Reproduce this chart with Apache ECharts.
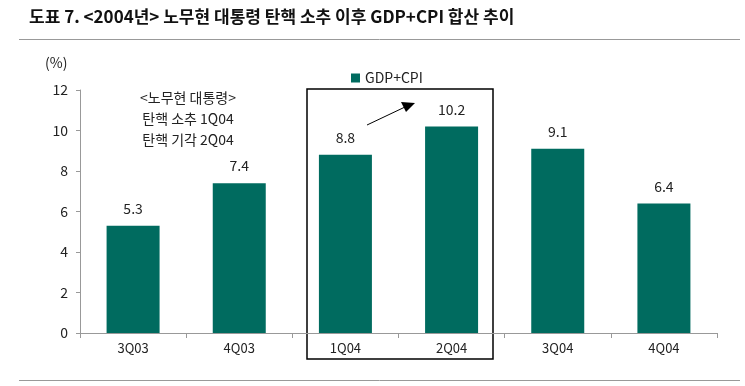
<!DOCTYPE html>
<html><head><meta charset="utf-8">
<script src="https://cdn.jsdelivr.net/npm/echarts@6/dist/echarts.min.js"></script>
<style>html,body{margin:0;padding:0;background:#fff}#c{width:745px;height:386px}</style>
</head><body><div id="c"></div>
<script>
const categories = ['3Q03','4Q03','1Q04','2Q04','3Q04','4Q04'];
const gdpCpi = [5.3, 7.4, 8.8, 10.2, 9.1, 6.4];
const yTicks = [0, 2, 4, 6, 8, 10, 12];

const FONT = '"Noto Sans CJK KR", "Noto Sans", sans-serif';
const BAR = '#006B5F';
const chart = echarts.init(document.getElementById('c'));
chart.setOption({
  animation: false,
  textStyle: { fontFamily: FONT },
  grid: { left: 80, right: 28, top: 90, bottom: 53 },
  legend: {
    data: ['GDP+CPI'], left: 346, top: 66, itemWidth: 9, itemHeight: 9, itemGap: 4,
    icon: 'rect', textStyle: { fontSize: 14, color: '#222', fontFamily: FONT }
  },
  xAxis: {
    type: 'category', data: categories,
    axisLine: { lineStyle: { color: '#999' } },
    axisTick: { show: true, length: 5, lineStyle: { color: '#999' } },
    axisLabel: { color: '#222', fontSize: 13, margin: 9 }
  },
  yAxis: {
    type: 'value', min: yTicks[0], max: yTicks[yTicks.length - 1], interval: 2,
    splitLine: { show: false },
    axisLine: { show: true, lineStyle: { color: '#999' } },
    axisTick: { show: true, length: 4, lineStyle: { color: '#999' } },
    axisLabel: { color: '#222', fontSize: 14, margin: 12 }
  },
  series: [{
    name: 'GDP+CPI', type: 'bar', data: gdpCpi, barWidth: 53,
    itemStyle: { color: BAR },
    label: { show: true, position: 'top', distance: 10, color: '#222', fontSize: 14,
      formatter: p => p.value.toFixed(1) }
  }],
  graphic: [
    { type: 'text', left: 29, top: 8, style: { text: '도표 7. <2004년> 노무현 대통령 탄핵 소추 이후 GDP+CPI 합산 추이',
      font: 'bold 17px ' + FONT, fill: '#111' } },
    { type: 'line', shape: { x1: 19, y1: 39.5, x2: 740, y2: 39.5 }, style: { stroke: '#999', lineWidth: 1 } },
    { type: 'line', shape: { x1: 19, y1: 380.5, x2: 740, y2: 380.5 }, style: { stroke: '#999', lineWidth: 1 } },
    { type: 'text', left: 45, top: 56, style: { text: '(%)', font: '14px ' + FONT, fill: '#222' } },
    { type: 'text', x: 188, y: 87, style: { text: '<노무현 대통령>\n탄핵 소추 1Q04\n탄핵 기각 2Q04',
      font: '14px ' + FONT, fill: '#222', align: 'center', lineHeight: 21 } },
    { type: 'rect', shape: { x: 307, y: 89, width: 186, height: 270 },
      style: { fill: 'none', stroke: '#000', lineWidth: 1.5 } },
    { type: 'line', shape: { x1: 367, y1: 125, x2: 405, y2: 107 }, style: { stroke: '#000', lineWidth: 1 } },
    { type: 'polygon', shape: { points: [[415, 103], [401, 102], [406, 112]] }, style: { fill: '#000' } }
  ]
});
</script></body></html>
